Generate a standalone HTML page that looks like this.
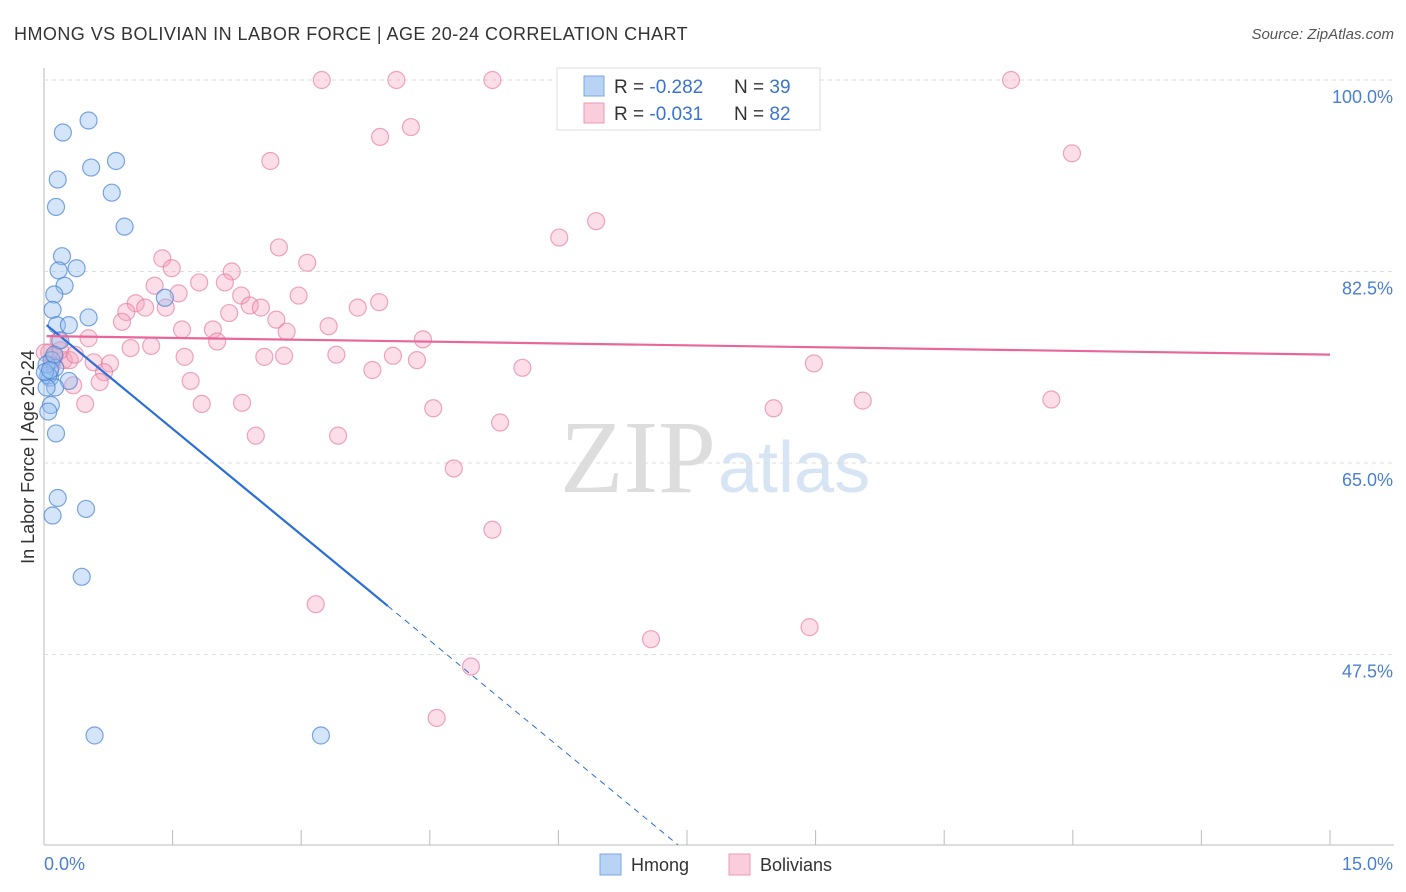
<!DOCTYPE html>
<html><head><meta charset="utf-8"><style>
body{margin:0;background:#fff;font-family:"Liberation Sans",sans-serif}
svg{display:block}
</style></head><body>
<svg id="c" width="1406" height="892">
<text x="14" y="40" font-size="18" fill="#333" letter-spacing="0.45">HMONG VS BOLIVIAN IN LABOR FORCE | AGE 20-24 CORRELATION CHART</text>
<text x="1394" y="39" font-size="15" fill="#555" font-style="italic" text-anchor="end">Source: ZipAtlas.com</text>
<text x="716" y="492" font-size="104" fill="#ddd" font-family="Liberation Serif,serif" text-anchor="end">ZIP</text>
<text x="718" y="492" font-size="72" fill="#d6e4f4">atlas</text>
<g id="grid"></g><g id="pts"></g><g id="lines"></g>
<text transform="translate(34,457) rotate(-90)" font-size="18" fill="#333" text-anchor="middle">In Labor Force | Age 20-24</text>
<text x="44" y="870" font-size="18" fill="#4a7fd0">0.0%</text>
<text x="1393" y="870" font-size="18" fill="#4a7fd0" text-anchor="end">15.0%</text>
<g>
<rect x="557" y="68" width="263" height="62" fill="#fff" stroke="#ddd"/>
<rect x="584" y="76" width="20" height="20" fill="#b9d3f5" stroke="#7aa7e3"/>
<rect x="584" y="103" width="20" height="20" fill="#f9cddb" stroke="#ee9bb6"/>
<text x="614" y="93" font-size="19" fill="#333">R = <tspan fill="#3a73cf">-0.282</tspan></text>
<text x="734" y="93" font-size="19" fill="#333">N = <tspan fill="#3a73cf">39</tspan></text>
<text x="614" y="120" font-size="19" fill="#333">R = <tspan fill="#3a73cf">-0.031</tspan></text>
<text x="734" y="120" font-size="19" fill="#333">N = <tspan fill="#3a73cf">82</tspan></text>
</g>
<g>
<rect x="600" y="854" width="21" height="21" fill="#b9d3f5" stroke="#7aa7e3"/>
<text x="631" y="871" font-size="18" fill="#333">Hmong</text>
<rect x="729" y="854" width="21" height="21" fill="#f9cddb" stroke="#ee9bb6"/>
<text x="760" y="871" font-size="18" fill="#333">Bolivians</text>
</g>
</svg>
<script>
const yTicks=[100,82.5,65,47.5];
const yTickLabels=["100.0%","82.5%","65.0%","47.5%"];
const hmongX=[0.22,0.52,0.84,0.55,0.16,0.79,0.14,0.94,0.21,0.17,0.38,0.24,0.12,1.41,0.10,0.52,0.15,0.29,0.19,0.09,0.13,0.07,0.05,0.29,0.13,0.03,0.08,0.05,0.14,0.16,0.49,0.10,0.44,0.59,3.23,0.03,0.01,0.07,0.12];
const hmongY=[95.2,96.3,92.6,92.0,90.9,89.7,88.4,86.6,83.9,82.6,82.8,81.2,80.4,80.1,79.0,78.3,77.6,77.6,76.2,74.4,73.7,72.8,73.0,72.5,71.9,71.9,70.3,69.7,67.7,61.8,60.8,60.2,54.6,40.1,40.1,74.0,73.3,73.5,74.9];
const bolX=[3.24,4.11,5.23,11.28,4.28,3.92,11.99,2.64,6.44,6.01,2.74,1.38,3.07,1.49,2.19,1.29,1.81,2.11,1.57,2.30,2.97,1.07,3.91,3.66,1.42,1.18,2.40,2.53,0.96,2.16,0.91,2.71,3.32,1.61,1.97,2.83,4.42,2.02,0.52,0.17,1.01,1.25,3.41,2.57,2.80,4.07,1.64,4.35,0.06,0.12,0.23,0.30,0.58,0.77,0.09,0.70,3.83,5.58,8.98,1.71,0.65,0.34,0.48,1.84,2.31,4.54,8.51,9.55,11.75,5.32,2.47,3.43,4.78,5.23,3.17,7.08,8.93,4.98,4.58,0.19,0.36,0.01];
const bolY=[100,100,100,100,95.7,94.8,93.3,92.6,87.1,85.6,84.7,83.7,83.3,82.8,82.5,81.2,81.5,81.5,80.5,80.3,80.3,79.6,79.7,79.2,79.2,79.2,79.4,79.2,78.8,78.7,77.9,78.1,77.5,77.2,77.2,77.0,76.3,76.1,76.4,76.2,75.5,75.7,74.9,74.7,74.8,74.8,74.7,74.4,75.1,74.7,74.4,74.4,74.2,74.1,73.9,73.3,73.5,73.7,74.1,72.5,72.4,72.1,70.4,70.4,70.5,70.0,70.0,70.7,70.8,68.7,67.5,67.5,64.5,58.9,52.1,48.9,50.0,46.4,41.7,75.3,74.9,75.1];
const hmongTrend=[77.8,-6.45];
const bolTrend=[76.6,-0.113];
const X=v=>44+v/15*1286;
const Y=v=>80+(100-v)/17.5*191.5;
const NS="http://www.w3.org/2000/svg";
function mk(p,t,a){const e=document.createElementNS(NS,t);for(const k in a)e.setAttribute(k,a[k]);p.appendChild(e);return e;}
const g=document.getElementById('grid');
const ax=mk(g,'line',{x1:44,y1:68,x2:44,y2:845,stroke:'#bbb'});


const bx=mk(g,'line',{x1:44,y1:845,x2:1394,y2:845,stroke:'#bbb'});


for(let i=1;i<=10;i++){const t=mk(g,'line',{x1:X(i*1.5),x2:X(i*1.5),y1:830,y2:845,stroke:'#bbb'});

}
yTicks.forEach((v,i)=>{const l=mk(g,'line',{x1:44,x2:1394,y1:Y(v),y2:Y(v),stroke:'#ddd','stroke-dasharray':'4,4'});


const t=mk(g,'text',{x:1393,y:Y(v)+23,'font-size':18,fill:'#4a7fd0','text-anchor':'end'});t.textContent=yTickLabels[i];

});
const P=document.getElementById('pts');
bolX.forEach((x,i)=>{const c=mk(P,'circle',{cx:X(x),cy:Y(bolY[i]),r:8.5,fill:'rgba(244,160,188,0.35)',stroke:'rgba(230,120,158,0.65)','stroke-width':1.2});

});
hmongX.forEach((x,i)=>{const c=mk(P,'circle',{cx:X(x),cy:Y(hmongY[i]),r:8.5,fill:'rgba(150,190,240,0.4)',stroke:'rgba(70,130,210,0.7)','stroke-width':1.2});

});
const L=document.getElementById('lines');
const f=(t,x)=>t[0]+t[1]*x;
const xs=0.03,xe=4.01,xd=(f(hmongTrend,0)-30.1)/-hmongTrend[1];
const l1=mk(L,'line',{x1:X(xs),y1:Y(f(hmongTrend,xs)),x2:X(xe),y2:Y(f(hmongTrend,xe)),stroke:'#2a6fd6','stroke-width':2.2});


const l2=mk(L,'line',{x1:X(xe),y1:Y(f(hmongTrend,xe)),x2:X(xd),y2:Y(f(hmongTrend,xd)),stroke:'#2a6fd6','stroke-width':1,'stroke-dasharray':'6,5'});


const l3=mk(L,'line',{x1:X(0.03),y1:Y(f(bolTrend,0.03)),x2:X(15),y2:Y(f(bolTrend,15)),stroke:'#e8679a','stroke-width':2.2});


</script>
</body></html>
